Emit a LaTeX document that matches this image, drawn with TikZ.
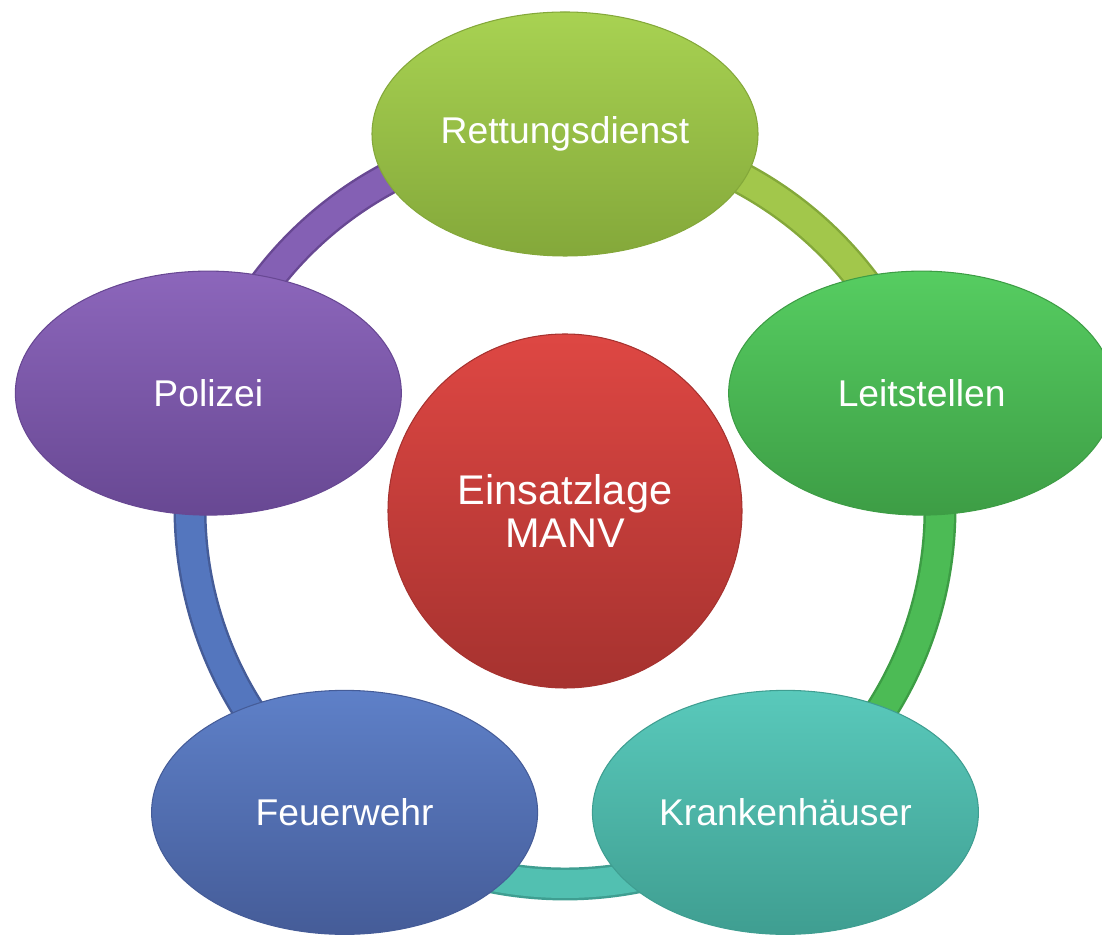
\documentclass[tikz,border=0pt]{standalone}
\usepackage{fontspec}
\setmainfont{Liberation Sans}
\usetikzlibrary{backgrounds,calc,shapes.geometric}
\definecolor{Lime}{HTML}{A2C74B}
\definecolor{LimeLight}{HTML}{A8D252}
\definecolor{LimeDark}{HTML}{84A83A}
\definecolor{Green}{HTML}{4CBB55}
\definecolor{GreenLight}{HTML}{56CD61}
\definecolor{GreenDark}{HTML}{3D9D45}
\definecolor{Teal}{HTML}{52C0B1}
\definecolor{TealLight}{HTML}{59C9BB}
\definecolor{TealDark}{HTML}{3F9E91}
\definecolor{Blue}{HTML}{5476BE}
\definecolor{BlueLight}{HTML}{5E80C8}
\definecolor{BlueDark}{HTML}{455C98}
\definecolor{Purple}{HTML}{8460B4}
\definecolor{PurpleLight}{HTML}{8C66BB}
\definecolor{PurpleDark}{HTML}{684893}
\definecolor{RedLight}{HTML}{DE4743}
\definecolor{RedDark}{HTML}{A6322F}
\tikzset{bubble/.style={ellipse,minimum width=7.72cm,minimum height=4.88cm,inner sep=0pt,text=white,top color=#1Light,bottom color=#1Dark,draw=#1Dark,line width=.6pt},hub/.style={circle,minimum size=7.08cm,inner sep=0pt,align=center,text=white,top color=RedLight,bottom color=RedDark,draw=RedDark,line width=.6pt,font=\fontsize{23.6}{24.5}\selectfont},tube/.style={draw=#1Dark,double=#1,line width=1.4pt,double distance=.56cm}}

\begin{document}
\begin{tikzpicture}[every node/.style={font=\fontsize{21.2}{24}\selectfont}]
      \clip(0,0)rectangle(22.04,18.76);
      \coordinate(mid)at(11.3,8.58);
      \foreach \ang/\name/\col/\txt in {90/rett/Lime/Rettungsdienst,18/leit/Green/Leitstellen,-54/kran/Teal/Krankenhäuser,-126/feuer/Blue/Feuerwehr,162/pol/Purple/Polizei}
        \node[bubble=\col](\name)at($(mid)+(\ang:7.5)$){\txt};
      \node[hub](lage)at(11.3,8.54){Einsatzlage\\MANV};
      \begin{scope}[on background layer]
        \foreach \from/\ang/\col in {pol/162/Purple,rett/90/Lime,leit/18/Green,kran/-54/Teal,feuer/-126/Blue}
          \draw[tube=\col](\from.center)arc[start angle=\ang,end angle=\ang-72,radius=7.5];
      \end{scope}
    \end{tikzpicture}
\end{document}
